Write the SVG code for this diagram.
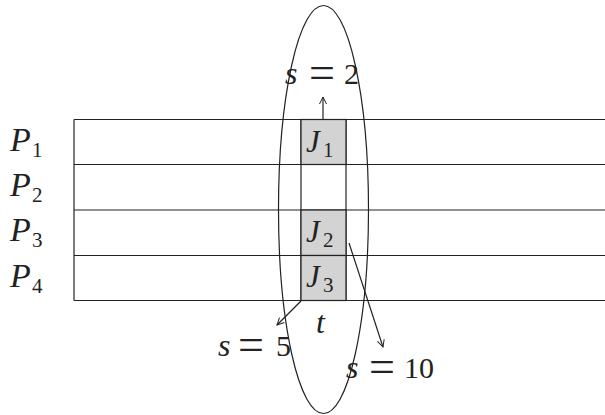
<svg xmlns="http://www.w3.org/2000/svg" width="605" height="415" viewBox="0 0 605 415">
<defs>
<style>
.ln{stroke:#222;stroke-width:1.2;fill:none}
.cell{fill:#d3d3d3;stroke:#222;stroke-width:1.2}
text{font-family:"Liberation Serif","Times New Roman","DejaVu Serif",serif;fill:#222}
.P{font-style:italic;font-size:34px}
.J{font-style:italic;font-size:31px}
.s{font-style:italic;font-size:32px}
.eq{font-size:46px}
.d{font-size:30px}
.sub{font-size:21px}
</style>
<marker id="ah" markerWidth="10" markerHeight="10" refX="8" refY="5" orient="auto" markerUnits="userSpaceOnUse">
<path d="M1,1.5 L8,5 L1,8.5" fill="none" stroke="#222" stroke-width="1"/>
</marker>
</defs>
<g id="grid">
<line class="ln" x1="74" y1="119.5" x2="605" y2="119.5"/>
<line class="ln" x1="74" y1="164.5" x2="605" y2="164.5"/>
<line class="ln" x1="74" y1="210" x2="605" y2="210"/>
<line class="ln" x1="74" y1="255.5" x2="605" y2="255.5"/>
<line class="ln" x1="74" y1="300.5" x2="605" y2="300.5"/>
<line class="ln" x1="74" y1="119.5" x2="74" y2="300.5"/>
<line class="ln" x1="301" y1="119.5" x2="301" y2="300.5"/>
<line class="ln" x1="346" y1="119.5" x2="346" y2="300.5"/>
</g>
<g id="J1">
<rect class="cell" x="301" y="119.5" width="45" height="45"/>
<text class="J" x="306" y="152">J</text><text class="sub" x="323" y="157">1</text>
</g>
<g id="J2">
<rect class="cell" x="301" y="210" width="45" height="45.5"/>
<text class="J" x="306" y="242">J</text><text class="sub" x="323" y="247">2</text>
</g>
<g id="J3">
<rect class="cell" x="301" y="255.5" width="45" height="45"/>
<text class="J" x="306" y="287">J</text><text class="sub" x="323" y="292">3</text>
</g>
<g id="labels">
<text class="P" x="10" y="151">P</text><text class="sub" x="32" y="157">1</text>
<text class="P" x="10" y="196">P</text><text class="sub" x="32" y="202">2</text>
<text class="P" x="10" y="241">P</text><text class="sub" x="32" y="247">3</text>
<text class="P" x="10" y="287">P</text><text class="sub" x="32" y="293">4</text>
<text class="s" x="316" y="333">t</text>
</g>
<g id="ellipse">
<ellipse class="ln" cx="323.5" cy="209.5" rx="45" ry="204"/>
</g>
<g id="s2">
<text class="s" x="285" y="84">s</text><text class="eq" x="309" y="88">=</text><text class="d" x="344" y="84">2</text>
</g>
<g id="s5">
<text class="s" x="218" y="356">s</text><text class="eq" x="238" y="360">=</text><text class="d" x="276" y="356">5</text>
</g>
<g id="s10">
<text class="s" x="346" y="378">s</text><text class="eq" x="369" y="382">=</text><text class="d" x="404" y="378">10</text>
</g>
<g id="connectors">
<line class="ln" x1="323" y1="119.5" x2="323" y2="97" marker-end="url(#ah)"/>
<line class="ln" x1="301" y1="301" x2="277" y2="325" marker-end="url(#ah)"/>
<line class="ln" x1="349" y1="243" x2="383" y2="347" marker-end="url(#ah)"/>
</g>
</svg>
